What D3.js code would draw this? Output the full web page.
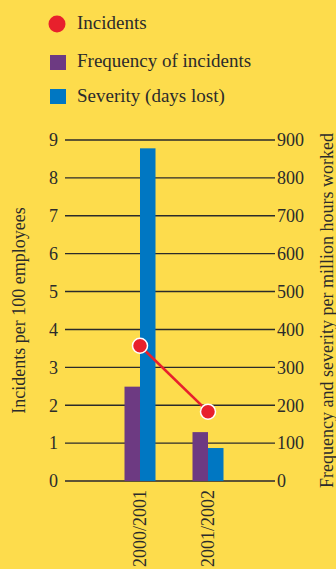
<!DOCTYPE html>
<html>
<head>
<meta charset="utf-8">
<script src="https://cdn.jsdelivr.net/npm/d3@7"></script>
<style>
  html, body { margin: 0; padding: 0; background: #FDDC4C; }
  svg text { font-family: "Liberation Serif", "Times New Roman", serif; fill: #2b2b2b; }
</style>
</head>
<body>
<div id="graph-area"></div>
<script>
// data
var years = ["2000/2001", "2001/2002"];
var incidents = [3.57, 1.83];        // per 100 employees (left axis)
var frequency = [249, 129];          // per million hours (right axis)
var severity = [878, 87];            // days lost (right axis)
var leftTicks = [0, 1, 2, 3, 4, 5, 6, 7, 8, 9];
var rightTicks = [0, 100, 200, 300, 400, 500, 600, 700, 800, 900];

var width = 336, height = 569;
var plotLeft = 65, plotRight = 275, plotTop = 140, plotBottom = 481;

var colors = { incidents: "#E8202C", frequency: "#6D3A82", severity: "#0077C2" };

var svg = d3.select('#graph-area')
  .append('svg')
  .attr('width', width)
  .attr('height', height)
  .style('display', 'block')
  .style('background-color', '#FDDC4C');

var yLeft = d3.scaleLinear().domain([0, 9]).range([plotBottom, plotTop]);
var yRight = d3.scaleLinear().domain([0, 900]).range([plotBottom, plotTop]);

var x = d3.scaleBand().domain(years).range([106, 242]);
var xSub = d3.scaleBand().domain(["frequency", "severity"]).range([-15.5, 15.5]);

// gridlines + left tick labels
var grid = svg.append('g');
grid.selectAll('line')
  .data(leftTicks)
  .enter().append('line')
  .attr('x1', plotLeft)
  .attr('x2', plotRight)
  .attr('y1', function(d){ return yLeft(d); })
  .attr('y2', function(d){ return yLeft(d); })
  .attr('stroke', function(d){ return d === 0 ? '#5e5334' : '#2a2a2a'; })
  .attr('stroke-width', function(d){ return d === 0 ? 2 : 1.4; });

svg.append('g').selectAll('text')
  .data(leftTicks)
  .enter().append('text')
  .attr('x', 58)
  .attr('y', function(d){ return yLeft(d); })
  .attr('dy', '0.35em')
  .attr('text-anchor', 'end')
  .style('font-size', '18px')
  .text(function(d){ return d; });

svg.append('g').selectAll('text')
  .data(rightTicks)
  .enter().append('text')
  .attr('x', 277)
  .attr('y', function(d){ return yRight(d); })
  .attr('dy', '0.35em')
  .attr('text-anchor', 'start')
  .style('font-size', '18px')
  .text(function(d){ return d; });

// bars
var groups = svg.append('g').selectAll('g')
  .data(years)
  .enter().append('g')
  .attr('transform', function(d){ return 'translate(' + (x(d) + x.bandwidth()/2) + ',0)'; });

groups.append('rect')
  .attr('x', xSub('frequency'))
  .attr('width', xSub.bandwidth())
  .attr('y', function(d, i){ return yRight(frequency[i]); })
  .attr('height', function(d, i){ return plotBottom - yRight(frequency[i]); })
  .attr('fill', colors.frequency);

groups.append('rect')
  .attr('x', xSub('severity'))
  .attr('width', xSub.bandwidth())
  .attr('y', function(d, i){ return yRight(severity[i]); })
  .attr('height', function(d, i){ return plotBottom - yRight(severity[i]); })
  .attr('fill', colors.severity);

// category labels, rotated
groups.append('text')
  .attr('transform', 'translate(0,' + (plotBottom + 9) + ') rotate(-90)')
  .attr('dy', '0.35em')
  .attr('text-anchor', 'end')
  .style('font-size', '18px')
  .text(function(d){ return d; });

// incidents line
var line = d3.line()
  .x(function(d, i){ return x(years[i]) + x.bandwidth()/2; })
  .y(function(d){ return yLeft(d); });

svg.append('path')
  .datum(incidents)
  .attr('d', line)
  .attr('fill', 'none')
  .attr('stroke', colors.incidents)
  .attr('stroke-width', 2.6);

svg.append('g').selectAll('circle')
  .data(incidents)
  .enter().append('circle')
  .attr('cx', function(d, i){ return x(years[i]) + x.bandwidth()/2; })
  .attr('cy', function(d){ return yLeft(d); })
  .attr('r', 7.5)
  .attr('fill', colors.incidents)
  .attr('stroke', '#fff')
  .attr('stroke-width', 1.5);

// axis titles
svg.append('text')
  .attr('transform', 'translate(25,' + ((plotTop + plotBottom)/2) + ') rotate(-90)')
  .attr('text-anchor', 'middle')
  .style('font-size', '18px')
  .text('Incidents per 100 employees');

svg.append('text')
  .attr('transform', 'translate(333,' + ((plotTop + plotBottom)/2) + ') rotate(-90)')
  .attr('text-anchor', 'middle')
  .style('font-size', '18px')
  .text('Frequency and severity per million hours worked');

// legend
var legend = svg.append('g');
legend.append('circle')
  .attr('cx', 57).attr('cy', 24).attr('r', 8.5)
  .attr('fill', colors.incidents);
legend.append('rect')
  .attr('x', 50).attr('y', 55).attr('width', 16).attr('height', 15)
  .attr('fill', colors.frequency);
legend.append('rect')
  .attr('x', 50).attr('y', 89).attr('width', 16).attr('height', 15)
  .attr('fill', colors.severity);

var legendItems = [
  { label: "Incidents", y: 29 },
  { label: "Frequency of incidents", y: 67 },
  { label: "Severity (days lost)", y: 102 }
];
legend.selectAll('text')
  .data(legendItems)
  .enter().append('text')
  .attr('x', 77)
  .attr('y', function(d){ return d.y; })
  .style('font-size', '19px')
  .text(function(d){ return d.label; });
</script>
</body>
</html>
